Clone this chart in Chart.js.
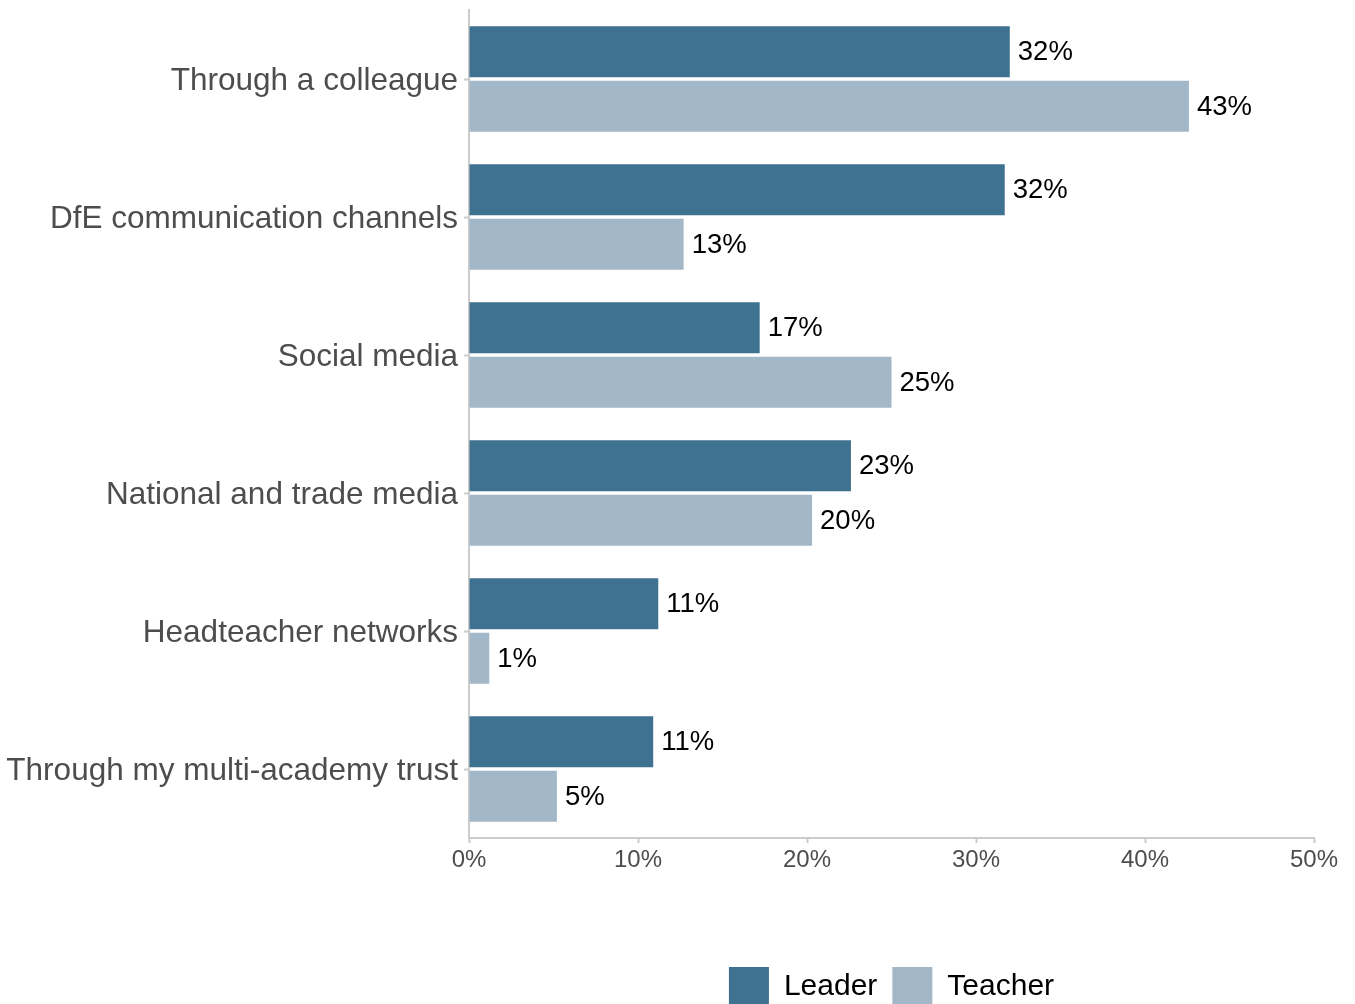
<!DOCTYPE html>
<html>
<head>
<meta charset="utf-8">
<title>How respondents heard about it</title>
<script src="https://cdn.jsdelivr.net/npm/chart.js@4/dist/chart.umd.min.js"></script>
<style>
  html, body { margin: 0; padding: 0; background: #fff; overflow: hidden; }
  #wrap { width: 1355px; height: 1030px; position: relative; }
</style>
</head>
<body>
<div id="wrap"><canvas id="sourceChart"></canvas></div>
<script>
const categories = [
  'Through a colleague',
  'DfE communication channels',
  'Social media',
  'National and trade media',
  'Headteacher networks',
  'Through my multi-academy trust',
];
const leaderValues = [32.0, 31.7, 17.2, 22.6, 11.2, 10.9];
const teacherValues = [42.6, 12.7, 25.0, 20.3, 1.2, 5.2];
const xTicks = [0, 10, 20, 30, 40, 50];

const FONT = '"Liberation Sans", Arial, Helvetica, sans-serif';
const AXIS_GREY = '#cccccc';
const TEXT_GREY = '#4d4d4d';

// percentage labels just past the end of each bar
const barLabels = {
  id: 'barLabels',
  afterDatasetsDraw(chart) {
    const ctx = chart.ctx;
    ctx.save();
    ctx.font = '27.5px ' + FONT;
    ctx.fillStyle = '#000';
    ctx.textAlign = 'left';
    ctx.textBaseline = 'middle';
    chart.data.datasets.forEach((ds, i) => {
      chart.getDatasetMeta(i).data.forEach((bar, j) => {
        ctx.fillText(Math.round(ds.data[j]) + '%', bar.x + 8, bar.y + 1);
      });
    });
    ctx.restore();
  }
};

new Chart(document.getElementById('sourceChart'), {
  type: 'bar',
  data: {
    labels: categories,
    datasets: [
      {
        label: 'Leader',
        data: leaderValues,
        backgroundColor: '#3f7190',
        borderWidth: 0,
        categoryPercentage: 0.79,
        barPercentage: 0.94,
      },
      {
        label: 'Teacher',
        data: teacherValues,
        backgroundColor: '#a2b8c8',
        borderWidth: 0,
        categoryPercentage: 0.79,
        barPercentage: 0.94,
      },
    ],
  },
  options: {
    indexAxis: 'y',
    responsive: true,
    maintainAspectRatio: false,
    animation: false,
    layout: { padding: { top: 10, right: 41, bottom: 13, left: 0 } },
    scales: {
      x: {
        type: 'linear',
        min: 0,
        max: 50,
        afterBuildTicks: (scale) => {
          scale.ticks = xTicks.map(v => ({ value: v }));
        },
        afterFit: (scale) => { scale.height = 114; },
        ticks: {
          callback: (v) => v + '%',
          color: TEXT_GREY,
          font: { family: FONT, size: 24 },
          padding: 3,
          maxRotation: 0,
        },
        grid: {
          drawOnChartArea: false,
          drawTicks: true,
          tickLength: 5,
          tickColor: AXIS_GREY,
          tickWidth: 2,
        },
        border: { display: true, color: AXIS_GREY, width: 2 },
      },
      y: {
        afterFit: (scale) => {
          scale.width = 469;
          scale.paddingTop = 0;
          scale.paddingBottom = 0;
        },
        ticks: {
          color: TEXT_GREY,
          font: { family: FONT, size: 31.5 },
          padding: 6,
          labelOffset: 2,
        },
        grid: {
          offset: false,
          drawOnChartArea: false,
          drawTicks: true,
          tickLength: 5,
          tickColor: AXIS_GREY,
          tickWidth: 2,
        },
        border: { display: true, color: AXIS_GREY, width: 2 },
      },
    },
    plugins: {
      legend: {
        position: 'bottom',
        fullSize: false,
        labels: {
          boxWidth: 40,
          boxHeight: 40,
          padding: 15,
          color: '#000',
          font: { family: FONT, size: 30 },
        },
      },
      tooltip: { enabled: false },
    },
  },
  plugins: [barLabels],
});
</script>
</body>
</html>
